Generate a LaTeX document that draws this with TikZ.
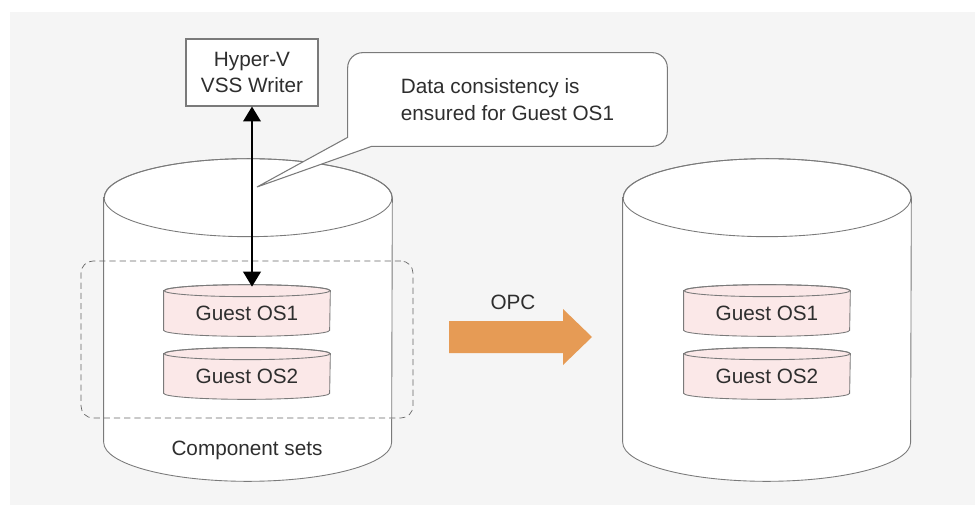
\documentclass[tikz,border=0pt]{standalone}
\usepackage{fontspec}
\setmainfont{Liberation Sans}
\usepackage{xcolor}
\definecolor{panelGray}{HTML}{F5F5F5}
\definecolor{lineGray}{HTML}{7A7A7A}
\definecolor{dashGray}{HTML}{666666}
\definecolor{textGray}{HTML}{2E2E2E}
\definecolor{guestPink}{HTML}{FBE8E8}
\definecolor{opcOrange}{HTML}{E69B55}
\usepackage{tikz}
\usetikzlibrary{arrows.meta, positioning}
\pgfdeclarelayer{back}
\pgfsetlayers{back,main}

% cylinder round a node: #1 node, #2 x radius, #3 y radius, #4 fill
\newcommand{\drum}[4]{%
	\begin{pgfonlayer}{back}
		\filldraw[drumline, fill=#4] ([yshift=#3]#1.north west) -- (#1.south west)
			arc[start angle=180, end angle=360, x radius=#2, y radius=#3]
			-- ([yshift=#3]#1.north east)
			arc[start angle=0, end angle=180, x radius=#2, y radius=#3] -- cycle;
		\draw[drumline] ([yshift=#3]#1.north) ellipse[x radius=#2, y radius=#3];
	\end{pgfonlayer}}

\begin{document}
\begin{tikzpicture}[
		x=0.02cm, y=0.02cm,
		font=\fontsize{11.8}{15.3}\selectfont,
		text=textGray,
		drumline/.style={draw=lineGray, line width=0.5pt},
		vol/.style={minimum width=5.76cm, minimum height=4.1cm, inner sep=0pt},
		guest/.style={minimum width=3.32cm, minimum height=0.66cm, inner sep=0pt},
		box/.style={
			draw=lineGray,
			fill=white,
			line width=0.6pt,
			minimum width=2.64cm,
			minimum height=1.34cm,
			align=center
		},
		note/.style={minimum width=6.38cm, minimum height=1.86cm, align=left, inner sep=0pt},
		bubble/.style={draw=lineGray, fill=white, line width=0.6pt},
		group/.style={
			draw=dashGray,
			dashed,
			dash pattern=on 3.5pt off 2.3pt,
			rounded corners=0.24cm,
			minimum width=6.64cm,
			minimum height=3.14cm
		},
		arrow/.style={{Triangle[length=8.5pt,width=10pt]}-{Triangle[length=8.5pt,width=10pt]}, line width=1.1pt}
		]
		
		\useasboundingbox (0,0) rectangle (975,-507);
		\begin{pgfonlayer}{back}
			\fill[panelGray] (10,-12) rectangle (975,-505);
		\end{pgfonlayer}
		
		% volumes
		\node[vol] (src) at (248,-339.5) {};
		\drum{src}{2.88cm}{0.78cm}{white}
		\node[vol] (dst) at (767,-339.5) {};
		\drum{dst}{2.88cm}{0.78cm}{white}
		
		% callout
		\node[note] (cons) at (507.5,-99.5) {Data consistency is\\ensured for Guest OS1};
		\coordinate (tip) at (257,-187);
		\begin{pgfonlayer}{back}
			\draw[bubble] (tip) -- ([yshift=0.18cm]cons.south west) [rounded corners=0.3cm]
				-- (cons.north west) -- (cons.north east) -- (cons.south east)
				[sharp corners] -- ([xshift=0.48cm]cons.south west) -- cycle;
		\end{pgfonlayer}
		
		% guest OS disks
		\node[guest] (src1) at (247,-313.5) {Guest OS1};
		\drum{src1}{1.66cm}{0.12cm}{guestPink}
		\node[guest] (src2) at (247,-376.5) {Guest OS2};
		\drum{src2}{1.66cm}{0.12cm}{guestPink}
		\node[guest] (dst1) at (767,-313.5) {Guest OS1};
		\drum{dst1}{1.66cm}{0.12cm}{guestPink}
		\node[guest] (dst2) at (767,-376.5) {Guest OS2};
		\drum{dst2}{1.66cm}{0.12cm}{guestPink}
		
		\node[group] (cset) at (247,-339.5) {};
		\node (csetl) at (247,-450) {Component sets};
		
		\node[box] (hv) at (252,-72.5) {Hyper-V\\VSS Writer};
		\coordinate (hit) at ([yshift=0.2cm]src1.north);
		\draw[arrow] (hv.south) -- (hv.south |- hit);
		
		% OPC
		\fill[opcOrange] (449,-321) -- (563,-321) -- (563,-309) -- (592,-337)
			-- (563,-365) -- (563,-353) -- (449,-353) -- cycle;
		\node (opc) at (513,-302) {OPC};
		
	\end{tikzpicture}
\end{document}
